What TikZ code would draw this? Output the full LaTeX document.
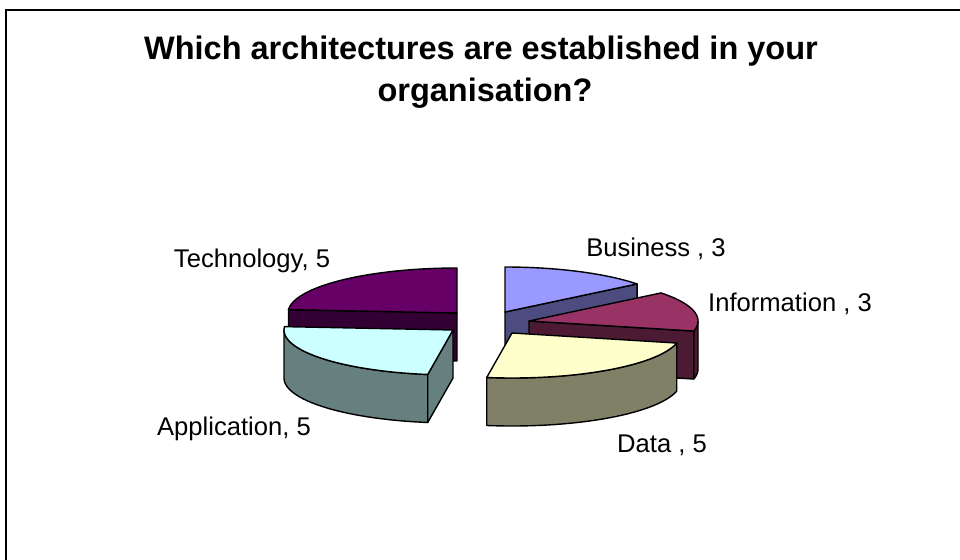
\documentclass[tikz,border=0pt]{standalone}
\usepackage{fontspec}
\setmainfont{Liberation Sans}
\begin{document}
\begin{tikzpicture}[x=1pt,y=-1pt,
  edge/.style={draw=black,line width=1.4pt,line join=round},
  lbl/.style={font=\fontsize{25.6}{30}\selectfont,anchor=base,inner sep=0pt},
  ttl/.style={font=\fontsize{32.5}{40}\selectfont\bfseries,anchor=base,inner sep=0pt}]
\definecolor{techtop}{HTML}{660066}\definecolor{techside}{HTML}{330033}
\definecolor{apptop}{HTML}{CCFFFF}\definecolor{appside}{HTML}{668080}
\definecolor{bustop}{HTML}{9999FF}\definecolor{busside}{HTML}{4C4C80}
\definecolor{inftop}{HTML}{993366}\definecolor{infside}{HTML}{4D1A33}
\definecolor{datop}{HTML}{FFFFCC}\definecolor{daside}{HTML}{808066}
\useasboundingbox (0,0) rectangle (960,559);
\clip (0,0) rectangle (960,559);
\fill[white] (0,0) rectangle (960,559);
\draw[line width=2.2pt] (6,600) -- (6,10) -- (1000,10);
% ---------- Technology (tip 457,313; 90 -> 175.7)
\path[edge,fill=techside] (457,313) -- ({457+169*cos(175.7)},{313-45*sin(175.7)})
  -- ({457+169*cos(175.7)},{361-45*sin(175.7)}) -- (457,361) -- cycle;
\path[edge,fill=techtop] (457,313) -- plot[domain=90:175.7,samples=40] ({457+169*cos(\x)},{313-45*sin(\x)}) -- cycle;
% ---------- Business (tip 505,312; 38.6 -> 90)
\path[edge,fill=busside] (505,312) -- ({505+169*cos(38.6)},{312-45*sin(38.6)})
  -- ({505+169*cos(38.6)},{360-45*sin(38.6)}) -- (505,360) -- cycle;
\path[edge,fill=bustop] (505,312) -- plot[domain=38.6:90,samples=30] ({505+169*cos(\x)},{312-45*sin(\x)}) -- cycle;
% ---------- Information (tip 529,321; -12.9 -> 38.6)
\path[edge,fill=infside] plot[domain=-12.9:0,samples=10] ({529+169*cos(\x)},{321-45*sin(\x)})
  -- plot[domain=0:1,samples=10] ({529+169*cos(-12.9*\x)},{369-45*sin(-12.9*\x)}) -- cycle;
\path[edge,fill=infside] (529,321) -- ({529+169*cos(-12.9)},{321-45*sin(-12.9)})
  -- ({529+169*cos(-12.9)},{369-45*sin(-12.9)}) -- (529,369) -- cycle;
\path[edge,fill=inftop] (529,321) -- plot[domain=-12.9:38.6,samples=30] ({529+169*cos(\x)},{321-45*sin(\x)}) -- cycle;
% ---------- Application (tip 453,330; 175.7 -> 261.4)
\path[edge,fill=appside] plot[domain=180:261.4,samples=40] ({453+169*cos(\x)},{330-45*sin(\x)})
  -- plot[domain=0:1,samples=40] ({453+169*cos(261.4-81.4*\x)},{378-45*sin(261.4-81.4*\x)}) -- cycle;
\path[edge,fill=appside] (453,330) -- ({453+169*cos(261.4)},{330-45*sin(261.4)})
  -- ({453+169*cos(261.4)},{378-45*sin(261.4)}) -- (453,378) -- cycle;
\path[edge,fill=apptop] (453,330) -- plot[domain=175.7:261.4,samples=40] ({453+169*cos(\x)},{330-45*sin(\x)}) -- cycle;
% ---------- Data (tip 512,333; -98.6 -> -12.9)
\path[edge,fill=daside] plot[domain=-98.6:-12.9,samples=40] ({512+169*cos(\x)},{333-45*sin(\x)})
  -- plot[domain=0:1,samples=40] ({512+169*cos(-12.9-85.7*\x)},{381-45*sin(-12.9-85.7*\x)}) -- cycle;
\path[edge,fill=datop] (512,333) -- plot[domain=-98.6:-12.9,samples=40] ({512+169*cos(\x)},{333-45*sin(\x)}) -- cycle;
% ---------- texts
\node[ttl] (title1) at (481,60) {Which architectures are established in your};
\node[ttl] (title2) at (485,102) {organisation?};
\node[lbl] (ltech) at (252,267) {Technology, 5};
\node[lbl] (lbus) at (656,256) {Business , 3};
\node[lbl] (linf) at (790,311) {Information , 3};
\node[lbl] (lapp) at (234,435) {Application, 5};
\node[lbl] (ldata) at (662,452) {Data , 5};
\end{tikzpicture}
\end{document}
